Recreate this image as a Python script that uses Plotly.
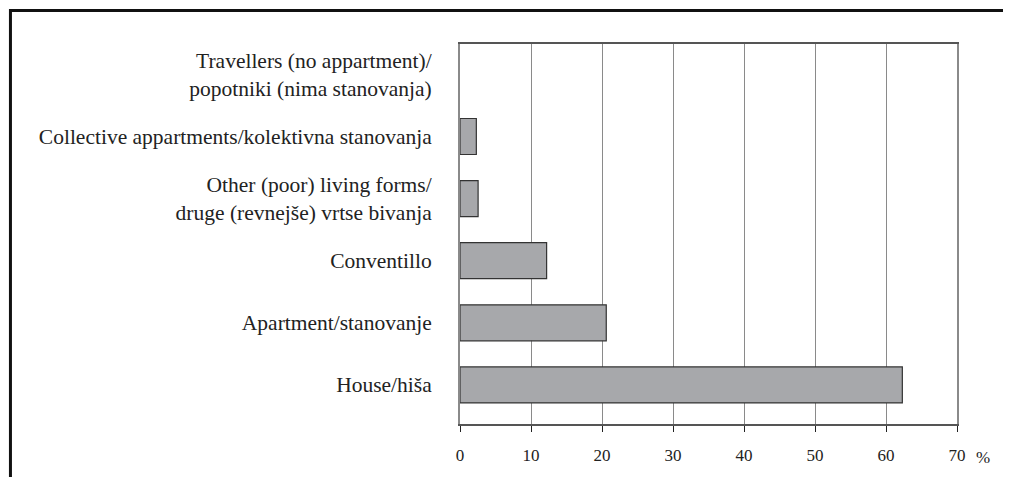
import plotly.graph_objects as go

categories = [
    "House/hiša",
    "Apartment/stanovanje",
    "Conventillo",
    "Other (poor) living forms/<br>druge (revnejše) vrtse bivanja",
    "Collective appartments/kolektivna stanovanja",
    "Travellers (no appartment)/<br>popotniki (nima stanovanja)",
]
values = [62.3, 20.6, 12.2, 2.55, 2.3, 0]
x_ticks = [0, 10, 20, 30, 40, 50, 60, 70]

# page has an 8px body margin; work in page pixels and convert
OFF = 8
W, H = 1011 - OFF, 477 - OFF
L = 459.5 - OFF
R = 1011 - 957
T = 44 - OFF
B = 477 - 430
pw = W - L - R
ph = H - T - B

fig = go.Figure(go.Bar(
    x=values, y=categories, orientation="h",
    marker=dict(color="#a7a8ab",
                line=dict(color="#333333", width=[1.2 if v > 0 else 0 for v in values])),
    width=0.58,
))

FONT = "Liberation Serif, Times New Roman, serif"

fig.update_layout(
    width=W, height=H,
    margin=dict(l=L, r=R, t=T, b=B, pad=0),
    plot_bgcolor="white", paper_bgcolor="white",
    font=dict(family=FONT, size=21.5, color="#222222"),
    showlegend=False,
)
fig.update_xaxes(
    range=[0, 70], tickvals=x_ticks, ticktext=[str(v) for v in x_ticks],
    showgrid=True, gridcolor="#8a8a8a", gridwidth=1,
    showline=True, linecolor="#555555", linewidth=1.5, mirror=True,
    ticks="outside", ticklen=6, tickcolor="#222222", tickwidth=1.2,
    tickfont=dict(family=FONT, size=17, color="#222222"),
    ticklabelstandoff=9,
    zeroline=False, fixedrange=True,
)
fig.update_yaxes(
    categoryorder="array", categoryarray=categories,
    range=[-0.63, 5.49],
    showgrid=False, showline=True, linecolor="#8a8a8a", linewidth=2, mirror=True,
    ticks="", ticklabelstandoff=22,
    tickfont=dict(family=FONT, size=21.5, color="#222222"),
    zeroline=False, fixedrange=True,
)

# outer frame (black) extending off the right and bottom edges
fx0 = (9.5 - OFF - L) / pw
fy0 = (H - B - (10 - OFF)) / ph
fig.add_shape(type="path", xref="paper", yref="paper",
              path=f"M {fx0} -0.3 L {fx0} {fy0} L 1.3 {fy0}",
              line=dict(color="#111111", width=3))

fig.add_annotation(text="%", xref="paper", yref="paper",
                   x=(983 - OFF - L) / pw, y=(H - B - (464 - OFF)) / ph,
                   showarrow=False, xanchor="center", yanchor="middle",
                   font=dict(family=FONT, size=17, color="#222222"))

fig.write_html("out.html")
